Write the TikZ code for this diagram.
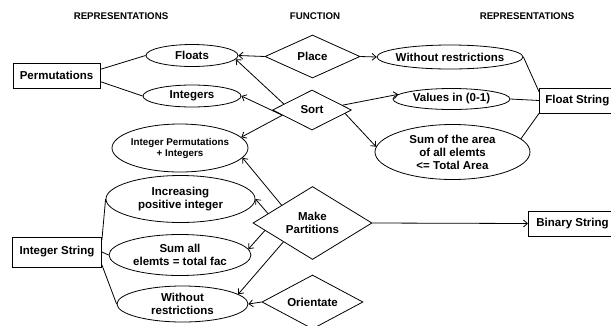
\documentclass[tikz,border=0pt]{standalone}
\usepackage{fontspec}
\setmainfont{Liberation Sans}
\usepackage{tikz}
\usetikzlibrary{arrows,%
  arrows.meta,%
  shapes.geometric%
}

\tikzset{
  repr/.style={draw,ellipse,inner xsep=-8pt,inner ysep=0pt,align=center,
    font=\fontsize{11.5}{13}\selectfont\bfseries},
  func/.style={draw,diamond,aspect=2,inner sep=0pt,align=center,
    font=\fontsize{11.5}{13}\selectfont\bfseries},
  kind/.style={draw,rectangle,inner sep=0pt,
    font=\fontsize{11.5}{13}\selectfont\bfseries},
  heading/.style={font=\fontsize{9.7}{11}\selectfont\bfseries}
}

\begin{document}
\begin{tikzpicture}[x=1pt,y=-1pt,line width=0.8pt,>={Straight Barb[length=4pt,width=7pt]}]
            \path[use as bounding box,fill=white] (0,0) rectangle (611,325);

            % column titles
            \node[heading] (hdleft) at (121,16) {REPRESENTATIONS};
            \node[heading] (hdmid) at (315,16) {FUNCTION};
            \node[heading] (hdright) at (527,16) {REPRESENTATIONS};

            % boxes
            \node[kind,minimum width=87,minimum height=25] (perm) at (56.5,75.5) {Permutations};
            \node[kind,minimum width=89,minimum height=30] (intstr) at (57,252) {Integer String};
            \node[kind,anchor=west,minimum height=25,inner xsep=6pt] (floatstr) at (539,100.5) {Float String};
            \node[kind,anchor=west,minimum height=25,inner xsep=8pt] (binstr) at (528,223.5) {Binary String};

            % left ellipses
            \node[repr,minimum width=92,minimum height=22] (floats) at (192,55.5) {Floats};
            \node[repr,minimum width=98,minimum height=22] (ints) at (192,96) {Integers};
            \node[repr,minimum width=136,minimum height=48,
                font=\fontsize{9.8}{11}\selectfont\bfseries] (intperm) at (180,148)
                {Integer Permutations\\+ Integers};
            \node[repr,minimum width=149,minimum height=47] (incr) at (180.5,199) {Increasing\\positive integer};
            \node[repr,minimum width=142,minimum height=41] (sumall) at (180,255) {Sum all\\elemts = total fac};
            \node[repr,minimum width=131,minimum height=36] (wrb) at (182.5,304) {Without\\restrictions};

            % right ellipses
            \node[repr,minimum width=146,minimum height=24] (wrt) at (450,57) {Without restrictions};
            \node[repr,minimum width=117,minimum height=21] (vals) at (451.5,99) {Values in (0-1)};
            \node[repr,minimum width=155,minimum height=55] (area) at (452.5,152)
                {Sum of the area\\of all elemts\\ \textless= Total Area};

            % functions
            \node[func,minimum width=95,minimum height=43] (place) at (312.5,56.5) {Place};
            \node[func,minimum width=79,minimum height=40] (sort) at (312,110) {Sort};
            \node[func,minimum width=119,minimum height=73] (mkpart) at (312.5,223) {Make\\Partitions};
            \node[func,minimum width=101,minimum height=54] (orient) at (312.5,302) {Orientate};

            % plain links
            \draw (perm.8) -- (floats.west);
            \draw (perm.-8) -- (ints.west);
            \draw (intstr.15) -- (incr.west);
            \draw (intstr.east) -- (sumall.west);
            \draw (intstr.-16) -- (wrb.west);
            \draw (wrt.east) -- (floatstr.167);
            \draw (vals.east) -- (floatstr.west);
            \draw (area.11) -- (floatstr.south west);

            % function arrows
            \draw[->] (place.west) -- (floats.east);
            \draw[->] (place.east) -- (wrt.west);
            \draw[->] (sort.168) -- (floats.-5);
            \draw[->] (sort.190) -- (ints.east);
            \draw[->] (sort.190) -- (intperm.10);
            \draw[->] (sort.9) -- (vals.175);
            \draw[->] (sort.-6) -- (area.176);
            \draw[->] (mkpart.150) -- (intperm.-9);
            \draw[->] (mkpart.168) -- (incr.east);
            \draw[->] (mkpart.189) -- (sumall.5);
            \draw[->] (mkpart.213) -- (wrb.10);
            \draw[->] (mkpart.east) -- (binstr.west);
            \draw[->] (orient.west) -- (wrb.east);
\end{tikzpicture}
\end{document}
